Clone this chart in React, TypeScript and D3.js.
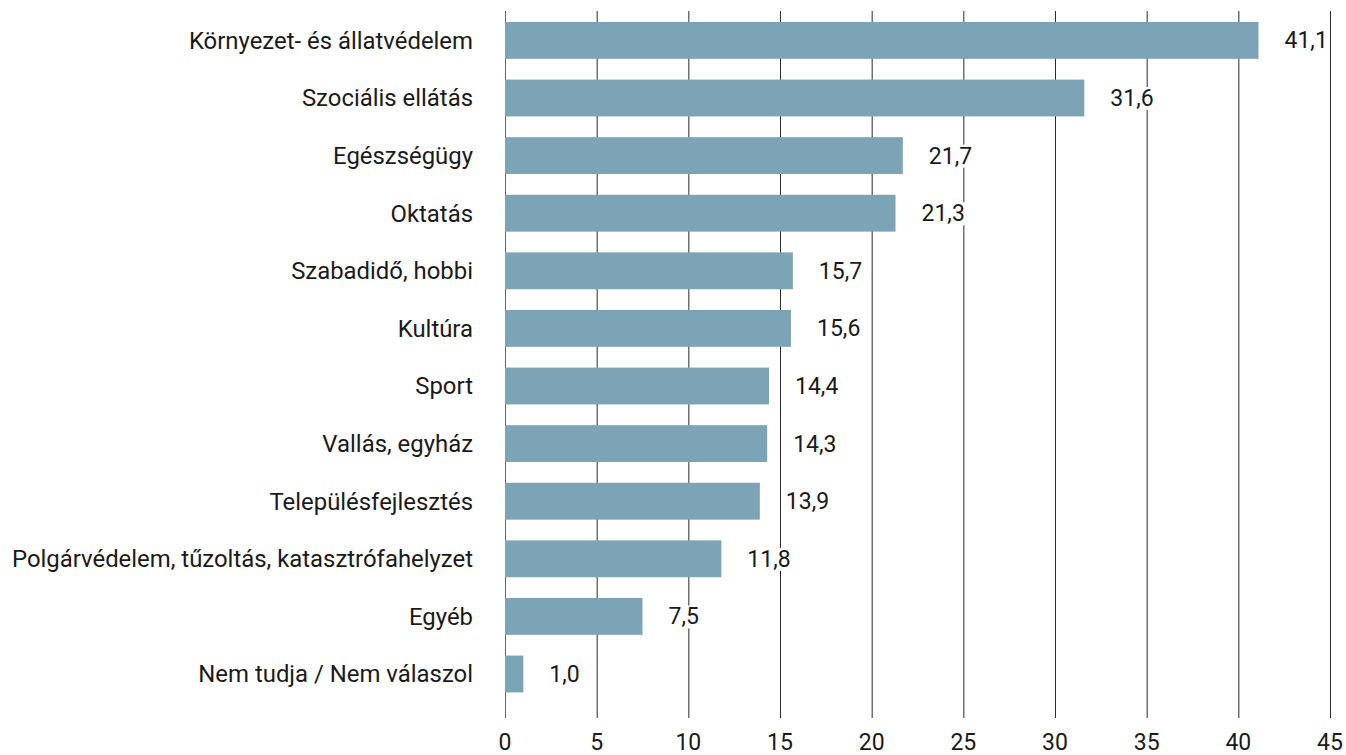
import React, { useEffect, useRef } from "react";
import * as d3 from "d3";

const categories = [
  "Környezet- és állatvédelem",
  "Szociális ellátás",
  "Egészségügy",
  "Oktatás",
  "Szabadidő, hobbi",
  "Kultúra",
  "Sport",
  "Vallás, egyház",
  "Településfejlesztés",
  "Polgárvédelem, tűzoltás, katasztrófahelyzet",
  "Egyéb",
  "Nem tudja / Nem válaszol",
];
const values = [41.1, 31.6, 21.7, 21.3, 15.7, 15.6, 14.4, 14.3, 13.9, 11.8, 7.5, 1.0];
const ticks = [0, 5, 10, 15, 20, 25, 30, 35, 40, 45];

const W = 1346;
const H = 755;
const FONT = "Roboto, sans-serif";
const FS = 23.9;

export default function App() {
  const ref = useRef<SVGSVGElement>(null);

  useEffect(() => {
    document.body.style.margin = "0";
    const svg = d3.select(ref.current);
    svg.selectAll("*").remove();

    const x = d3.scaleLinear().domain([0, 45]).range([505, 1330]);
    const y = d3
      .scaleBand()
      .domain(categories)
      .range([11.6, 702.8])
      .paddingInner(0.36)
      .paddingOuter(0.18);

    // grid lines
    svg
      .append("g")
      .selectAll("line")
      .data(ticks)
      .join("line")
      .attr("x1", (d) => x(d) + 0.5)
      .attr("x2", (d) => x(d) + 0.5)
      .attr("y1", 11)
      .attr("y2", 718)
      .attr("stroke", (d) => (d === 0 ? "#666" : "#2a2a2a"))
      .attr("stroke-width", 1);

    // tick labels
    svg
      .append("g")
      .selectAll("text")
      .data(ticks)
      .join("text")
      .attr("x", (d) => x(d))
      .attr("y", 750)
      .attr("text-anchor", "middle")
      .attr("font-family", FONT)
      .attr("font-size", 23)
      .attr("fill", "#1a1a1a")
      .text((d) => d);

    // bars
    svg
      .append("g")
      .selectAll("rect")
      .data(values)
      .join("rect")
      .attr("x", x(0))
      .attr("y", (d, i) => y(categories[i])!)
      .attr("width", (d) => x(d) - x(0))
      .attr("height", y.bandwidth())
      .attr("fill", "#7da3b6");

    // category labels
    svg
      .append("g")
      .selectAll("text")
      .data(categories)
      .join("text")
      .attr("x", 473)
      .attr("y", (d) => y(d)! + y.bandwidth() / 2)
      .attr("dy", "0.35em")
      .attr("text-anchor", "end")
      .attr("font-family", FONT)
      .attr("font-size", FS)
      .attr("fill", "#1a1a1a")
      .text((d) => d);

    // value labels with white box
    const lab = svg
      .append("g")
      .selectAll("g")
      .data(values)
      .join("g");
    const txt = lab
      .append("text")
      .attr("x", (d) => x(d) + 26)
      .attr("y", (d, i) => y(categories[i])! + y.bandwidth() / 2)
      .attr("dy", "0.35em")
      .attr("font-family", FONT)
      .attr("font-size", 23)
      .attr("fill", "#1a1a1a")
      .text((d) => d.toFixed(1).replace(".", ","));
    txt.each(function () {
      const b = (this as SVGTextElement).getBBox();
      d3.select((this as SVGTextElement).parentNode as SVGGElement)
        .insert("rect", "text")
        .attr("x", b.x - 2)
        .attr("y", b.y + 2)
        .attr("width", b.width + 4)
        .attr("height", b.height - 4)
        .attr("fill", "#fff");
    });
  }, []);

  return <svg ref={ref} width={W} height={H} style={{ display: "block" }} />;
}
